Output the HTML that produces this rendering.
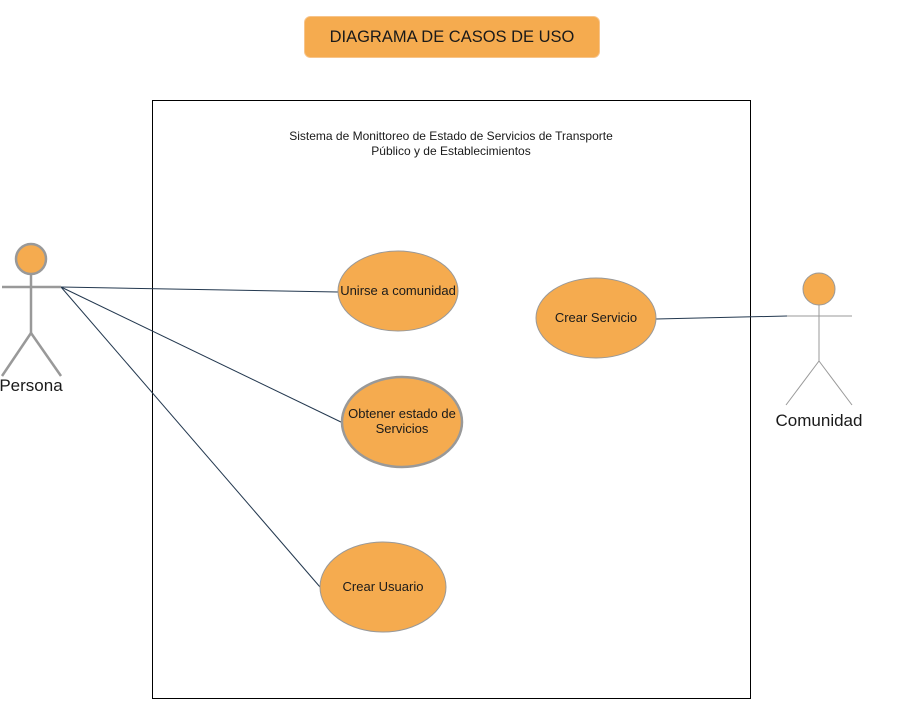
<!DOCTYPE html>
<html><head><meta charset="utf-8"><style>
html,body{margin:0;padding:0;background:#fff;width:899px;height:718px;overflow:hidden}
svg{display:block}
text{font-family:"Liberation Sans",sans-serif;fill:#1a1a1a}
</style></head><body>
<svg width="899" height="718" viewBox="0 0 899 718" xmlns="http://www.w3.org/2000/svg">
<rect x="304.5" y="16.5" width="295" height="41" rx="6" fill="#f5ab4f" stroke="#f7c48a" stroke-width="1"/>
<text x="452" y="42" font-size="16.5" text-anchor="middle">DIAGRAMA DE CASOS DE USO</text>
<rect x="152.5" y="100.5" width="598" height="598" fill="none" stroke="#000" stroke-width="1"/>
<text x="451" y="140" font-size="12" text-anchor="middle">Sistema de Monittoreo de Estado de Servicios de Transporte</text>
<text x="451" y="155" font-size="12" text-anchor="middle">Público y de Establecimientos</text>
<g stroke="#23384f" stroke-width="1" fill="none">
<line x1="61" y1="287" x2="338" y2="292"/>
<line x1="61" y1="287" x2="343" y2="423"/>
<line x1="61" y1="287" x2="320" y2="587"/>
<line x1="656" y1="319" x2="787" y2="316"/>
</g>
<g stroke="#999" stroke-width="2.5" fill="none">
<line x1="31" y1="274" x2="31" y2="333"/>
<line x1="2" y1="287" x2="61" y2="287"/>
<line x1="31" y1="333" x2="2" y2="376"/>
<line x1="31" y1="333" x2="61" y2="376"/>
</g>
<circle cx="31" cy="259" r="15" fill="#f5ab4f" stroke="#999" stroke-width="2.5"/>
<text x="31" y="391" font-size="17" text-anchor="middle">Persona</text>
<g stroke="#999" stroke-width="1" fill="none">
<line x1="819" y1="305" x2="819" y2="361"/>
<line x1="787" y1="316" x2="852" y2="316"/>
<line x1="819" y1="361" x2="786" y2="405"/>
<line x1="819" y1="361" x2="852" y2="405"/>
</g>
<circle cx="819" cy="289" r="16" fill="#f5ab4f" stroke="#999" stroke-width="1"/>
<text x="819" y="426" font-size="17" text-anchor="middle">Comunidad</text>
<g fill="#f5ab4f" stroke="#999">
<ellipse cx="398" cy="291" rx="60" ry="40" stroke-width="1"/>
<ellipse cx="402" cy="422" rx="60" ry="45" stroke-width="2.5"/>
<ellipse cx="596" cy="318" rx="60" ry="40" stroke-width="1"/>
<ellipse cx="383" cy="587" rx="63" ry="45" stroke-width="1"/>
</g>
<g font-size="13" text-anchor="middle">
<text x="398" y="295">Unirse a comunidad</text>
<text x="402" y="418">Obtener estado de</text>
<text x="402" y="433">Servicios</text>
<text x="596" y="322">Crear Servicio</text>
<text x="383" y="591">Crear Usuario</text>
</g>
</svg>
</body></html>
